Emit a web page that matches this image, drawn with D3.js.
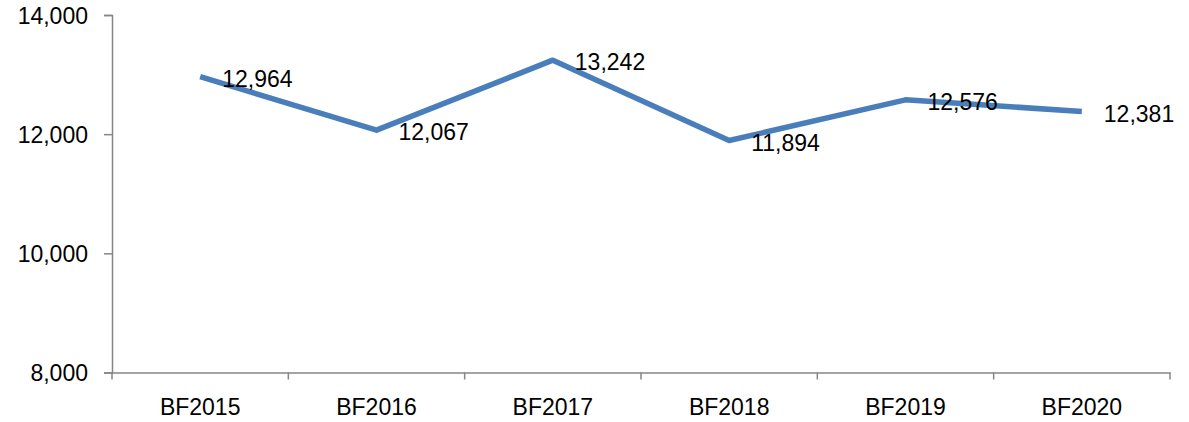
<!DOCTYPE html>
<html>
<head>
<meta charset="utf-8">
<script src="https://cdn.jsdelivr.net/npm/d3@7"></script>
<style>
	body{margin:0;background:#fff;}
	text{font-family:"Liberation Sans",Arial,sans-serif;fill:#000;}
</style>
</head>
<body>
<script>
var W=1189, H=422,
	margin={top:15,bottom:49.5,left:112,right:19}

var years=['BF2015','BF2016','BF2017','BF2018','BF2019','BF2020'],
	values=[12964,12067,13242,11894,12576,12381],
	yTicks=[8000,10000,12000,14000]

var innerW=W-margin.left-margin.right,
	innerH=H-margin.top-margin.bottom

var svg=d3.select('body').append('svg')
	.attr('width',W)
	.attr('height',H)

var g=svg.append('g')
	.attr('transform','translate('+margin.left+','+margin.top+')')

var x=d3.scaleBand().domain(years).range([0,innerW])
var y=d3.scaleLinear().domain([8000,14000]).range([innerH,0])

// y axis
var yAxis=g.append('g')
	.call(d3.axisLeft(y).tickValues(yTicks).tickSize(8).tickPadding(16).tickFormat(d3.format(',')))
yAxis.selectAll('text').style('font-size','23px').attr('dy','0.35em')

// x axis, ticks sit on the band edges
var xAxis=g.append('g')
	.attr('transform','translate(0,'+innerH+')')
	.call(d3.axisBottom(x).tickSize(0).tickPadding(26))
xAxis.selectAll('text').style('font-size','23px')
var edges=d3.range(years.length+1).map(function(i){return i*x.step()})
xAxis.selectAll('.edge').data(edges).enter().append('line')
	.attr('class','edge')
	.attr('x1',function(d){return d}).attr('x2',function(d){return d})
	.attr('y1',0).attr('y2',7)
	.attr('stroke','#868686')
	.attr('stroke-width',1.5)

svg.selectAll('.domain').attr('stroke','#868686').attr('stroke-width',1.5)
svg.selectAll('.tick line').attr('stroke','#868686').attr('stroke-width',1.5)

var cx=function(d,i){return x(years[i])+x.bandwidth()/2}

var line=d3.line()
	.x(cx)
	.y(function(d){return y(d)})

g.append('path')
	.datum(values)
	.attr('d',line)
	.attr('fill','none')
	.attr('stroke','#4A7EBB')
	.attr('stroke-width',5.5)
	.attr('stroke-linejoin','round')

g.selectAll('.lbl').data(values).enter().append('text')
	.attr('class','lbl')
	.attr('x',function(d,i){return cx(d,i)+22})
	.attr('y',function(d){return y(d)+2})
	.attr('dy','0.35em')
	.style('font-size','23px')
	.text(d3.format(','))
</script>
</body>
</html>
